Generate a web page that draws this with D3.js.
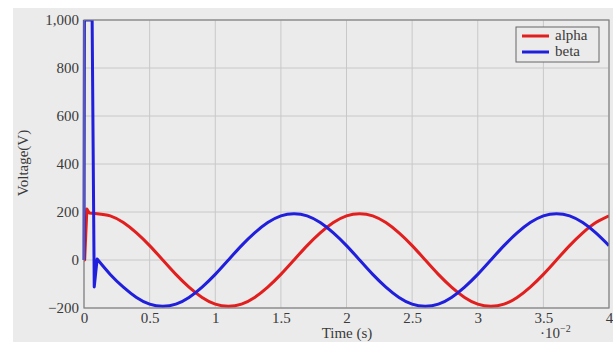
<!DOCTYPE html>
<meta charset="utf-8">
<style>
body { margin: 0; background: #fff; }
svg { display: block; }
.tick text { font-family: 'Liberation Serif', serif; font-size: 15px; fill: #3a3a3a; }
.lbl { font-family: 'Liberation Serif', serif; font-size: 15px; fill: #3a3a3a; }
</style>
<body>
<div id="chart"></div>
<script src="https://cdn.jsdelivr.net/npm/d3@7"></script>
<script>
// time in units of 1e-2 s; switch-on transient first, then steady state
var alphaStartT = [0, 0.005, 0.022, 0.04, 0.1];
var alphaStartV = [0, 0, 212, 196, 193];
var alphaT = [0.1, 0.2, 0.3, 0.4, 0.5, 0.6, 0.7, 0.8, 0.9, 1.0,
  1.1, 1.2, 1.3, 1.4, 1.5, 1.6, 1.7, 1.8, 1.9, 2.0, 2.1, 2.2, 2.3, 2.4, 2.5, 2.6,
  2.7, 2.8, 2.9, 3.0, 3.1, 3.2, 3.3, 3.4, 3.5, 3.6, 3.7, 3.8, 3.9, 4.0];
var alphaV = [193, 184, 156, 113, 60, 0, -60, -113, -156, -184,
  -193, -184, -156, -113, -60, 0, 60, 113, 156, 184, 193, 184, 156, 113, 60, 0,
  -60, -113, -156, -184, -193, -184, -156, -113, -60, 0, 60, 113, 156, 184];

var betaStartT = [0, 0.003, 0.062, 0.078, 0.1];
var betaStartV = [0, 1000, 1000, -112, 4];
var betaT = [0.1, 0.2, 0.3, 0.4, 0.5, 0.6, 0.7, 0.8, 0.9, 1.0,
  1.1, 1.2, 1.3, 1.4, 1.5, 1.6, 1.7, 1.8, 1.9, 2.0, 2.1, 2.2, 2.3, 2.4, 2.5, 2.6,
  2.7, 2.8, 2.9, 3.0, 3.1, 3.2, 3.3, 3.4, 3.5, 3.6, 3.7, 3.8, 3.9, 4.0];
var betaV = [4, -60, -113, -156, -184, -193, -184, -156, -113, -60,
  0, 60, 113, 156, 184, 193, 184, 156, 113, 60, 0, -60, -113, -156, -184, -193,
  -184, -156, -113, -60, 0, 60, 113, 156, 184, 193, 184, 156, 113, 60];

var xTicks = [0, 0.5, 1, 1.5, 2, 2.5, 3, 3.5, 4];
var yTicks = [-200, 0, 200, 400, 600, 800, 1000];
var seriesNames = ['alpha', 'beta'];
var seriesColors = ['#e21f1f', '#1f1fdc'];

var W = 613, H = 342;
var pL = 84, pR = 609, pT = 20, pB = 308;

var svg = d3.select('#chart').append('svg')
  .attr('width', W).attr('height', H);

svg.append('rect')
  .attr('x', 13).attr('y', 8)
  .attr('width', W - 13).attr('height', H - 8)
  .attr('fill', '#ebebeb');

var x = d3.scaleLinear().domain([0, 4]).range([pL, pR]);
var y = d3.scaleLinear().domain([-200, 1000]).range([pB, pT]);

// grid
svg.append('g').selectAll('line').data(xTicks).enter().append('line')
  .attr('x1', d => x(d)).attr('x2', d => x(d))
  .attr('y1', pT).attr('y2', pB)
  .attr('stroke', '#c8c8c8').attr('stroke-width', 1);
svg.append('g').selectAll('line').data(yTicks).enter().append('line')
  .attr('x1', pL).attr('x2', pR)
  .attr('y1', d => y(d)).attr('y2', d => y(d))
  .attr('stroke', '#c8c8c8').attr('stroke-width', 1);

svg.append('defs').append('clipPath').attr('id', 'clip')
  .append('rect').attr('x', pL - 2).attr('y', pT)
  .attr('width', pR - pL + 2).attr('height', pB - pT);

var lineSharp = d3.line().x(d => x(d[0])).y(d => y(d[1]));
var lineSmooth = d3.line().x(d => x(d[0])).y(d => y(d[1])).curve(d3.curveNatural);

var series = [
  { start: d3.zip(alphaStartT, alphaStartV), main: d3.zip(alphaT, alphaV), color: seriesColors[0] },
  { start: d3.zip(betaStartT, betaStartV), main: d3.zip(betaT, betaV), color: seriesColors[1] }
];

var plot = svg.append('g').attr('clip-path', 'url(#clip)');
series.forEach(function(s) {
  plot.append('path')
    .attr('d', lineSharp(s.start) + lineSmooth(s.main).replace(/^M[^C]*C/, 'C'))
    .attr('fill', 'none')
    .attr('stroke', s.color)
    .attr('stroke-width', 3)
    .attr('stroke-linejoin', 'round');
});

// frame
svg.append('rect')
  .attr('x', pL).attr('y', pT)
  .attr('width', pR - pL).attr('height', pB - pT)
  .attr('fill', 'none').attr('stroke', '#808080').attr('stroke-width', 1.2);

var fmtY = d => d < 0 ? '\u2212' + d3.format(',')(-d) : d3.format(',')(d);

var xAxis = svg.append('g').attr('transform', 'translate(0,' + pB + ')')
  .call(d3.axisBottom(x).tickValues(xTicks).tickSize(0).tickPadding(4).tickFormat(d3.format('')));
xAxis.select('.domain').remove();

var yAxis = svg.append('g').attr('transform', 'translate(' + pL + ',0)')
  .call(d3.axisLeft(y).tickValues(yTicks).tickSize(0).tickPadding(5).tickFormat(fmtY));
yAxis.select('.domain').remove();

svg.append('text').attr('class', 'lbl')
  .attr('transform', 'translate(28,' + 163 + ') rotate(-90)')
  .attr('text-anchor', 'middle')
  .text('Voltage(V)');

svg.append('text').attr('class', 'lbl')
  .attr('x', 347).attr('y', 338)
  .attr('text-anchor', 'middle')
  .text('Time (s)');

var ex = svg.append('text').attr('class', 'lbl')
  .attr('x', 540).attr('y', 338);
ex.append('tspan').text('\u00b710');
ex.append('tspan').attr('dy', -6).attr('font-size', 10).text('\u22122');

// legend
var lg = svg.append('g');
lg.append('rect')
  .attr('x', 516).attr('y', 27).attr('width', 83).attr('height', 35)
  .attr('fill', '#ebebeb').attr('stroke', '#666').attr('stroke-width', 1);
seriesNames.forEach(function(n, i) {
  var yy = 36 + i * 16;
  lg.append('line')
    .attr('x1', 522).attr('x2', 549).attr('y1', yy).attr('y2', yy)
    .attr('stroke', seriesColors[i]).attr('stroke-width', 3);
  lg.append('text').attr('class', 'lbl')
    .attr('x', 555).attr('y', yy + 4)
    .text(n);
});
</script>
</body>
